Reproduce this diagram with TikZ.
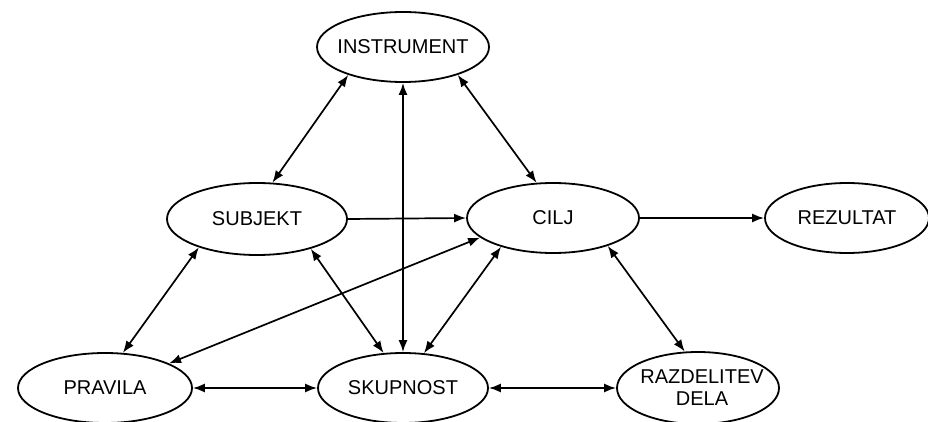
\documentclass[tikz,border=0pt]{standalone}
\usepackage{fontspec}
\setmainfont{Liberation Sans}
\usetikzlibrary{shapes.geometric,arrows.meta}
\begin{document}
\begin{tikzpicture}[x=1pt,y=-1pt,
  ell/.style={ellipse,draw,line width=1.8pt,inner xsep=-20pt,inner ysep=0pt,font=\fontsize{20}{22}\selectfont,align=center},
  conn/.style={line width=1.7pt},
  tip/.tip={Latex[length=12pt,width=9pt]},
  both/.style={conn,tip-tip},
  one/.style={conn,-tip}]
\useasboundingbox (0,0) rectangle (928,422);
\node[ell,minimum width=172pt,minimum height=70pt] (I) at (403,47) {INSTRUMENT};
\node[ell,minimum width=180pt,minimum height=72pt] (S) at (257,219) {SUBJEKT};
\node[ell,minimum width=172pt,minimum height=70pt] (C) at (553,218) {CILJ};
\node[ell,minimum width=164pt,minimum height=70pt] (R) at (847,218) {REZULTAT};
\node[ell,minimum width=174pt,minimum height=70pt] (P) at (105,388) {PRAVILA};
\node[ell,minimum width=170pt,minimum height=70pt] (K) at (403,388) {SKUPNOST};
\node[ell,minimum width=162pt,minimum height=72pt] (D) at (698,388) {\hspace*{8pt}RAZDELITEV\\\hspace*{8pt}DELA};
\draw[both] (I.207) -- (S.67);
\draw[both] (I.south) -- (K.north);
\draw[both] (I.333) -- (C.115);
\draw[one] (S.east) -- (C.west);
\draw[one] (C.east) -- (R.west);
\draw[both] (S.206) -- (P.63);
\draw[both] (S.331) -- (K.119);
\draw[both] (C.209) -- (K.59);
\draw[both] (C.195) -- (P.21);
\draw[both] (C.333) -- (D.110);
\draw[both] (P.east) -- (K.west);
\draw[both] (K.east) -- (D.west);
\end{tikzpicture}
\end{document}
